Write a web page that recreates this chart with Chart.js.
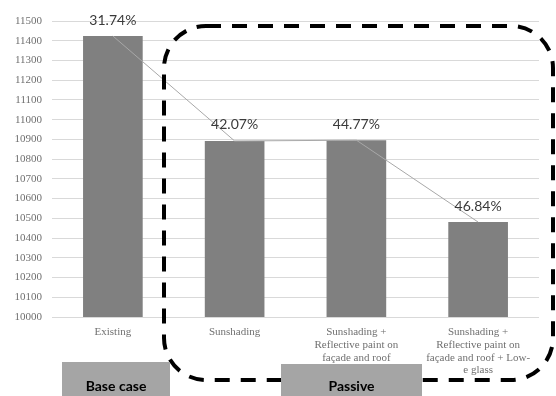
<!DOCTYPE html>
<html>
<head>
<meta charset="utf-8">
<script src="https://cdn.jsdelivr.net/npm/chart.js@4/dist/chart.umd.min.js"></script>
<style>
  html, body { margin: 0; padding: 0; background: #fff; }
  #wrap { width: 556px; height: 396px; position: relative; }
</style>
</head>
<body>
<div id="wrap"><canvas id="chart"></canvas></div>
<script>
const categories = [
  ["Existing"],
  ["Sunshading"],
  ["Sunshading +", "Reflective paint on", "façade and roof"],
  ["Sunshading +", "Reflective paint on", "façade and roof + Low-", "e glass"]
];
const energyUse = [11424, 10892, 10896, 10481];
const savingPercent = [31.74, 42.07, 44.77, 46.84];
const yTicks = { min: 10000, max: 11500, step: 100 };
const groups = ["Base case", "Passive"];

// percentage text above each bar
const barLabels = {
  id: "barLabels",
  afterDatasetsDraw(chart) {
    const ctx = chart.ctx;
    const meta = chart.getDatasetMeta(0);
    ctx.save();
    ctx.font = "14px Lato, 'Liberation Sans', sans-serif";
    ctx.fillStyle = "#3a3a3a";
    ctx.textAlign = "center";
    ctx.textBaseline = "bottom";
    meta.data.forEach((bar, i) => {
      ctx.fillText(savingPercent[i].toFixed(2) + "%", bar.x, bar.y - 9);
    });
    ctx.restore();
  }
};

// dashed frame round the passive options plus the two group tags
const groupMarks = {
  id: "groupMarks",
  afterDraw(chart) {
    const ctx = chart.ctx;
    ctx.save();
    ctx.strokeStyle = "#000";
    ctx.lineWidth = 4;
    ctx.setLineDash([15, 11]);
    ctx.beginPath();
    ctx.roundRect(164, 26, 389, 354, 42);
    ctx.stroke();
    ctx.setLineDash([]);

    const tags = [
      { text: groups[0], x: 62, w: 108, y: 362 },
      { text: groups[1], x: 281, w: 141, y: 364 }
    ];
    ctx.font = "bold 14px Lato, 'Liberation Sans', sans-serif";
    ctx.textAlign = "center";
    ctx.textBaseline = "middle";
    tags.forEach(t => {
      ctx.fillStyle = "#a5a5a5";
      ctx.fillRect(t.x, t.y, t.w, 40);
      ctx.fillStyle = "#000";
      ctx.fillText(t.text, t.x + t.w / 2, 386);
    });
    ctx.restore();
  }
};

var options = {
  type: "bar",
  data: {
    labels: categories,
    datasets: [
      {
        type: "bar",
        data: energyUse,
        backgroundColor: "#808080",
        barPercentage: 0.49,
        categoryPercentage: 1,
        order: 1
      },
      {
        // trend line drawn over the bars
        type: "line",
        data: energyUse,
        borderColor: "#a8a8a8",
        borderWidth: 1,
        pointRadius: 0,
        tension: 0,
        order: 0
      }
    ]
  },
  options: {
    responsive: false,
    animation: false,
    layout: { padding: { top: 21, right: 17, left: 0, bottom: 0 } },
    plugins: {
      legend: { display: false },
      tooltip: { enabled: false }
    },
    scales: {
      x: {
        grid: { display: false, drawTicks: false },
        border: { display: false },
        ticks: {
          color: "#707070",
          font: { family: "'Liberation Serif', serif", size: 11, lineHeight: 1.15 },
          padding: 9,
          maxRotation: 0,
          autoSkip: false
        },
        afterFit(scale) { scale.height = 79; }
      },
      y: {
        min: yTicks.min,
        max: yTicks.max,
        border: { display: false },
        grid: { color: "#d9d9d9", drawTicks: false },
        ticks: {
          stepSize: yTicks.step,
          color: "#707070",
          font: { family: "'Liberation Serif', serif", size: 11 },
          padding: 10,
          callback: v => String(v)
        },
        afterFit(scale) { scale.width = 52; }
      }
    }
  },
  plugins: [barLabels, groupMarks]
};

const canvas = document.getElementById("chart");
canvas.width = 556;
canvas.height = 396;
new Chart(canvas, options);
</script>
</body>
</html>
